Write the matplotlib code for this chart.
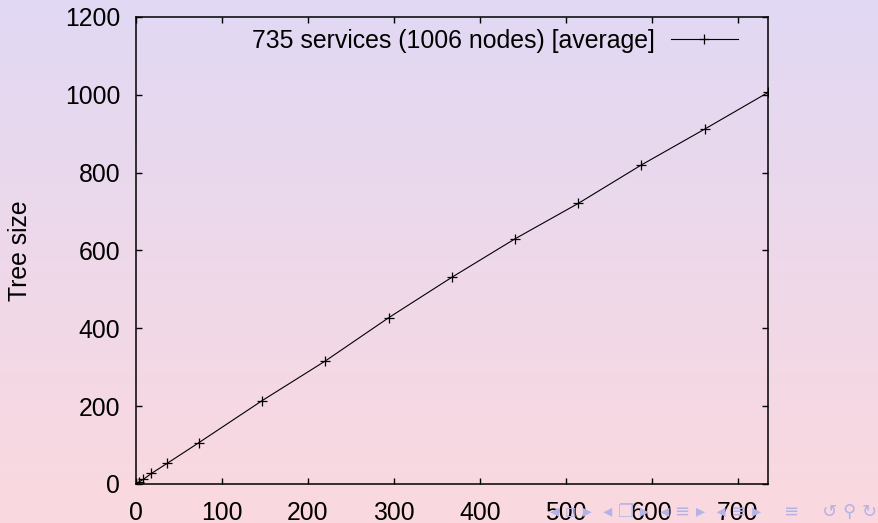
import numpy as np
import matplotlib.pyplot as plt
from matplotlib.colors import LinearSegmentedColormap

plt.rcParams['font.family'] = ['Liberation Sans', 'DejaVu Sans']

services = [0, 4.6, 9.2, 18.4, 36.75, 73.5, 147, 220.5, 294, 367.5, 441, 514.5, 588, 661.5, 735]
tree_size = [0, 6, 12, 27, 53, 106, 214, 316, 427, 531, 630, 721, 820, 912, 1006]
series_label = "735 services (1006 nodes) [average]"
xticks = [0, 100, 200, 300, 400, 500, 600, 700]
yticks = [0, 200, 400, 600, 800, 1000, 1200]

fig = plt.figure(figsize=(8.79, 5.23), dpi=100)

# beamer style background gradient
bg = fig.add_axes([0, 0, 1, 1])
cmap = LinearSegmentedColormap.from_list('bg', ['#e1d9f4', '#fbd8df'])
bg.imshow(np.linspace(0, 1, 256).reshape(-1, 1), aspect='auto', cmap=cmap,
          extent=[0, 1, 0, 1])
bg.set_axis_off()

ax = fig.add_axes([0.1542, 0.0746, 0.7195, 0.8929])
ax.patch.set_alpha(0)
ax.plot(services, tree_size, color='black', lw=0.8, marker='+', ms=7,
        mew=0.9, label=series_label)

ax.set_xlim(0, 735)
ax.set_ylim(0, 1200)
ax.set_xticks(xticks)
ax.set_yticks(yticks)
ax.tick_params(direction='in', length=4.5, width=1.0, labelsize=17.8,
               top=True, right=True, pad=12)
ax.tick_params(axis='y', pad=11)
for s in ax.spines.values():
    s.set_linewidth(1.1)

ax.set_ylabel("Tree size", fontsize=17.8)
ax.yaxis.set_label_coords(-0.163, 0.5)

ax.legend(loc='upper right', bbox_to_anchor=(0.968, 0.996), borderaxespad=0,
          markerfirst=False, frameon=False, fontsize=17.9,
          handlelength=2.7, handletextpad=0.64)

# navigation symbols
fig.text(0.626, 0.012, "◂ ▫ ▸  ◂ ❐ ▸  ◂ ≡ ▸  ◂ ≡ ▸    ≡    ↺ ⚲ ↻",
         fontsize=13, color='#b3b3e6', family=['DejaVu Sans'])

fig.savefig('out.png', dpi=100)
